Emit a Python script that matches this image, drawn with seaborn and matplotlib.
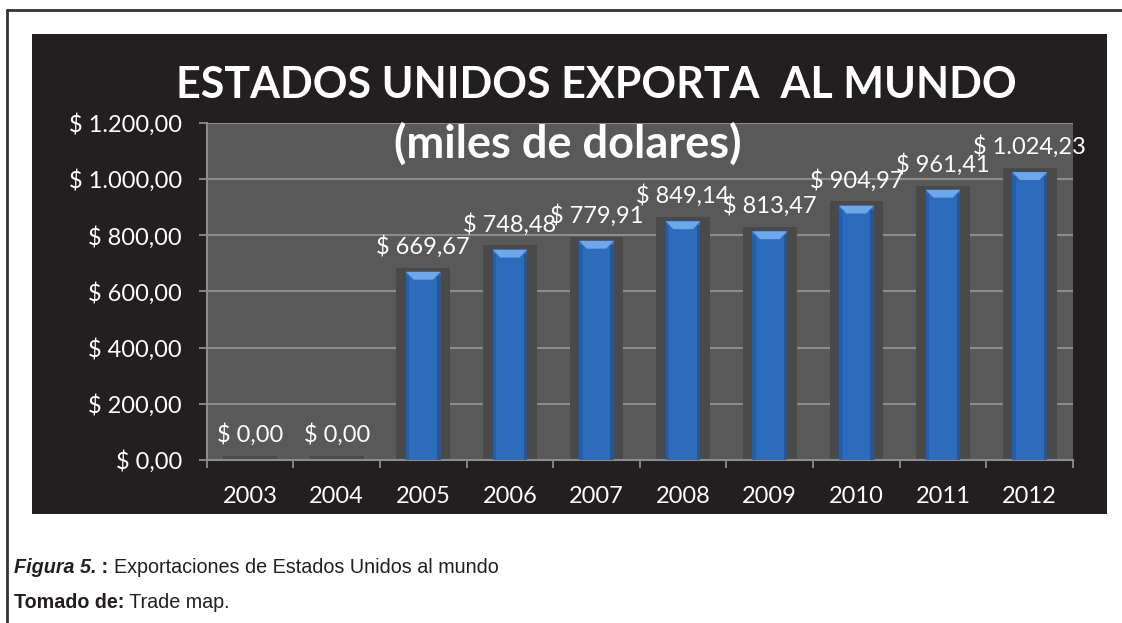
import matplotlib
matplotlib.use("Agg")
import matplotlib.pyplot as plt
import seaborn as sns
import pandas as pd
from matplotlib.patches import Polygon, Rectangle
from matplotlib.lines import Line2D

# ---------------- data ----------------
years = ["2003", "2004", "2005", "2006", "2007", "2008", "2009", "2010", "2011", "2012"]
values = [0.0, 0.0, 669.67, 748.48, 779.91, 849.14, 813.47, 904.97, 961.41, 1024.23]
value_labels = ["$ 0,00", "$ 0,00", "$ 669,67", "$ 748,48", "$ 779,91", "$ 849,14",
                "$ 813,47", "$ 904,97", "$ 961,41", "$ 1.024,23"]
yticks = [0, 200, 400, 600, 800, 1000, 1200]
ytick_labels = ["$ 0,00", "$ 200,00", "$ 400,00", "$ 600,00", "$ 800,00",
                "$ 1.000,00", "$ 1.200,00"]
title_line1 = "ESTADOS UNIDOS EXPORTA  AL MUNDO"
title_line2 = "(miles de dolares)"

sns.set_theme(style="dark")
plt.rcParams['font.family'] = ['Lato', 'DejaVu Sans']

W, H = 1122, 623
fig = plt.figure(figsize=(W / 100, H / 100), dpi=100)
fig.patch.set_facecolor("white")

# black chart panel
fig.add_artist(Rectangle((32 / W, 1 - 514 / H), 1075 / W, 480 / H, transform=fig.transFigure,
                         facecolor="#231f20", edgecolor="none", zorder=-1))
# page border lines
fig.add_artist(Line2D([7 / W, 7 / W], [0, 1 - 10 / H], transform=fig.transFigure,
                      color="#333333", linewidth=2))
fig.add_artist(Line2D([7 / W, 1], [1 - 10 / H, 1 - 10 / H], transform=fig.transFigure,
                      color="#333333", linewidth=2))

ax = fig.add_axes([206.7 / W, 1 - 460 / H, 866.3 / W, 337.3 / H])
ax.set_facecolor("#595959")

df = pd.DataFrame({"year": years, "value": values})
shadow = df.assign(value=df["value"] + 15)

sns.barplot(data=shadow, x="year", y="value", color="#494949", width=0.62,
            saturation=1, ax=ax, zorder=2, linewidth=0, errorbar=None)
n_shadow = len(ax.patches)
sns.barplot(data=df, x="year", y="value", color="#2d6cbc", width=0.40,
            saturation=1, ax=ax, zorder=3, linewidth=0, errorbar=None)

# bevel highlight + darker edges on the blue bars
for p in ax.patches[n_shadow:]:
    h = p.get_height()
    if h <= 0:
        p.set_visible(False)
        continue
    x0 = p.get_x()
    w = p.get_width()
    d = 28
    ax.add_patch(Polygon([(x0, h), (x0 + w, h), (x0 + w * 0.78, h - d), (x0 + w * 0.22, h - d)],
                         closed=True, facecolor="#6ea8ea", edgecolor="none", zorder=4))
    ax.add_patch(Rectangle((x0, 0), w * 0.1, h - d * 0.5, facecolor="#245a9e",
                           edgecolor="none", zorder=4, alpha=0.7))
    ax.add_patch(Rectangle((x0 + w * 0.9, 0), w * 0.1, h - d * 0.5, facecolor="#1f4f8c",
                           edgecolor="none", zorder=4, alpha=0.7))

# data labels
for i, (v, lab) in enumerate(zip(values, value_labels)):
    ax.annotate(lab, xy=(i, v), xytext=(0, 13), textcoords="offset points",
                ha="center", va="baseline", color="white", fontsize=17, zorder=6)

ax.set_ylim(0, 1200)
ax.set_xlim(-0.5, len(years) - 0.5)
ax.set_yticks(yticks)
ax.set_yticklabels(ytick_labels)
ax.set_xticks(range(len(years)))
ax.set_xticklabels(years)
ax.set_xticks([i - 0.5 for i in range(len(years) + 1)], minor=True)
ax.set_xlabel("")
ax.set_ylabel("")

ax.yaxis.grid(True, color="#8c8c8c", linewidth=1.5)
ax.xaxis.grid(False)
ax.set_axisbelow(True)
for s in ["top", "right"]:
    ax.spines[s].set_visible(False)
for s in ["left", "bottom"]:
    ax.spines[s].set_visible(True)
    ax.spines[s].set_color("#8c8c8c")
    ax.spines[s].set_linewidth(1.5)

ax.tick_params(axis="y", which="major", left=True, length=5.8, width=1.3, color="#8c8c8c",
               labelcolor="white", labelsize=17, pad=12)
ax.tick_params(axis="x", which="major", bottom=False, length=0, labelcolor="white",
               labelsize=17, pad=18.5)
ax.tick_params(axis="x", which="minor", bottom=True, length=5.5, width=1.3, color="#8c8c8c")

# titles
fig.text(596 / W, 1 - 98 / H, title_line1, ha="center", va="baseline", color="white",
         fontsize=31, fontweight="bold", zorder=10)
fig.text(568 / W, 1 - 158 / H, title_line2, ha="center", va="baseline", color="white",
         fontsize=32.5, fontweight="bold", zorder=10)

# caption (mixed styles)
renderer = fig.canvas.get_renderer()
cap_font = ["Liberation Sans", "DejaVu Sans"]
x = 14 / W
y1 = 1 - 573 / H
parts = [("Figura 5.", "bold", "italic"), (" : ", "bold", "normal"),
         ("Exportaciones de Estados Unidos al mundo", "normal", "normal")]
for txt, wgt, sty in parts:
    t = fig.text(x, y1, txt, ha="left", va="baseline", fontsize=14.2, family=cap_font,
                 fontweight=wgt, fontstyle=sty, color="#231f20")
    bb = t.get_window_extent(renderer)
    x += bb.width / W
x = 14 / W
y2 = 1 - 608 / H
for txt, wgt in [("Tomado de:", "bold"), (" Trade map.", "normal")]:
    t = fig.text(x, y2, txt, ha="left", va="baseline", fontsize=14.2, family=cap_font,
                 fontweight=wgt, color="#231f20")
    bb = t.get_window_extent(renderer)
    x += bb.width / W

fig.savefig("out.png", dpi=100, facecolor="white")
